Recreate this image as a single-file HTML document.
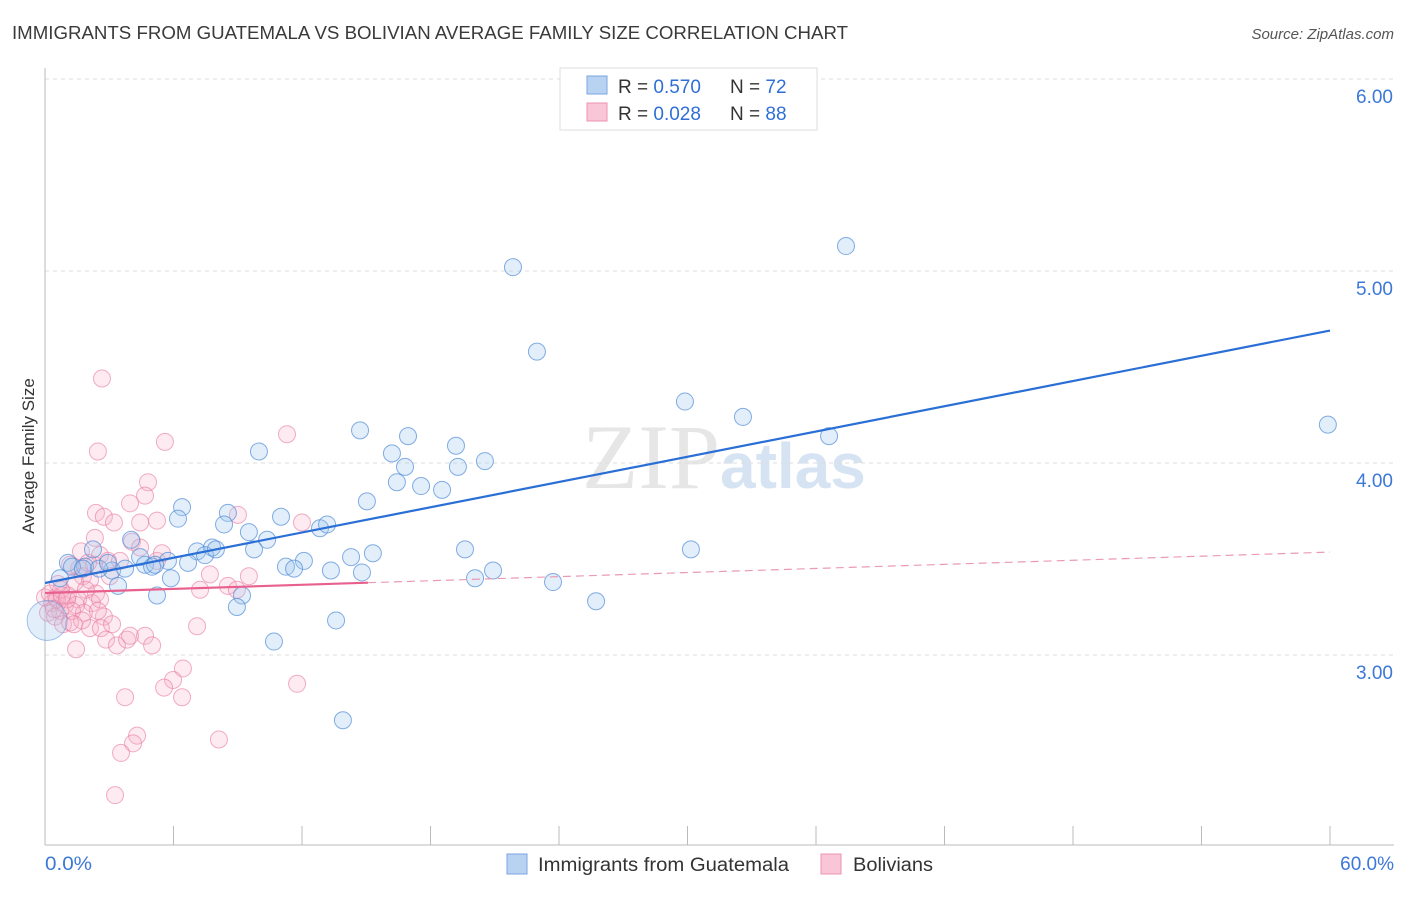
<!DOCTYPE html>
<html><head><meta charset="utf-8"><style>
body{margin:0;background:#fff;font-family:"Liberation Sans",sans-serif}
</style></head><body>
<svg id="chart" width="1406" height="892" xmlns="http://www.w3.org/2000/svg">
<text x="12" y="39" font-size="18" fill="#3a3a3a" textLength="836" lengthAdjust="spacingAndGlyphs">IMMIGRANTS FROM GUATEMALA VS BOLIVIAN AVERAGE FAMILY SIZE CORRELATION CHART</text>
<text x="1394" y="39" font-size="15" fill="#555" font-style="italic" text-anchor="end">Source: ZipAtlas.com</text>
<text x="720" y="488" font-size="92" fill="#e6e6e6" text-anchor="end" font-family="Liberation Serif,serif">ZIP</text>
<text x="720" y="488" font-size="64" fill="#d5e3f3" font-weight="bold">atlas</text>
<g id="grid"></g><g id="axes"></g><g id="pts"></g><g id="lines"></g>
<text x="34" y="456" font-size="17" fill="#333" text-anchor="middle" transform="rotate(-90 34 456)">Average Family Size</text>
<g>
<rect x="560" y="68" width="257" height="62" fill="#fff" stroke="#ddd"/>
<rect x="587" y="76" width="20" height="18" fill="#b8d2f2" stroke="#7aa6e0"/>
<rect x="587" y="103" width="20" height="18" fill="#f8c6d6" stroke="#ee93b1"/>
<text x="618" y="93" font-size="19" fill="#333">R = <tspan fill="#2f6fd6">0.570</tspan></text>
<text x="730" y="93" font-size="19" fill="#333">N = <tspan fill="#2f6fd6">72</tspan></text>
<text x="618" y="120" font-size="19" fill="#333">R = <tspan fill="#2f6fd6">0.028</tspan></text>
<text x="730" y="120" font-size="19" fill="#333">N = <tspan fill="#2f6fd6">88</tspan></text>
</g>
<g>
<rect x="507" y="854" width="20" height="20" fill="#b8d2f2" stroke="#7aa6e0"/>
<text x="538" y="871" font-size="19" fill="#333" textLength="251" lengthAdjust="spacingAndGlyphs">Immigrants from Guatemala</text>
<rect x="821" y="854" width="20" height="20" fill="#f8c6d6" stroke="#ee93b1"/>
<text x="853" y="871" font-size="19" fill="#333" textLength="80" lengthAdjust="spacingAndGlyphs">Bolivians</text>
</g>
<text x="45" y="870" font-size="19" fill="#3b78d8" textLength="47" lengthAdjust="spacingAndGlyphs">0.0%</text>
<text x="1394" y="870" font-size="19" fill="#3b78d8" text-anchor="end">60.0%</text>
</svg>
<script>
const yTicks=[3,4,5,6];
const yTickLabels=["3.00","4.00","5.00","6.00"];
const blueX=[21.85,37.40,22.97,29.88,32.59,36.61,59.90,14.71,16.95,19.19,16.20,9.99,16.81,19.28,20.54,16.43,17.56,18.54,15.03,6.40,8.54,6.21,8.36,11.02,9.52,12.84,13.17,10.37,9.76,7.10,7.80,7.47,7.98,5.74,6.68,4.44,4.67,5.00,4.02,2.24,1.07,1.87,3.13,3.74,5.14,3.41,5.88,19.61,30.16,14.29,15.31,12.09,11.25,11.63,13.35,14.80,20.92,20.08,23.72,25.73,5.23,9.20,8.96,13.59,10.69,13.91,0.70,2.52,1.26,2.94,1.77];
const blueY=[5.02,5.13,4.58,4.32,4.24,4.14,4.20,4.17,4.14,4.09,4.05,4.06,3.98,3.98,4.01,3.90,3.88,3.86,3.80,3.77,3.74,3.71,3.68,3.72,3.64,3.66,3.68,3.60,3.55,3.54,3.56,3.52,3.55,3.49,3.48,3.51,3.47,3.46,3.60,3.55,3.48,3.46,3.44,3.45,3.47,3.36,3.40,3.55,3.55,3.51,3.53,3.49,3.46,3.45,3.44,3.43,3.44,3.40,3.38,3.28,3.31,3.31,3.25,3.18,3.07,2.66,3.40,3.45,3.46,3.48,3.45];
const bigPoint=[0.1,3.18];
const pinkX=[2.66,5.60,2.47,11.30,4.81,3.97,4.67,2.38,2.75,3.22,4.44,5.23,9.01,12.00,2.33,4.06,1.68,2.57,2.94,4.44,5.23,5.46,8.54,7.24,9.52,1.59,1.17,1.77,2.10,3.03,1.40,2.38,0.51,0.33,0.70,0.93,0.14,0.47,0.84,1.17,1.91,2.19,2.57,2.75,1.07,0.75,1.54,1.45,1.82,2.10,2.61,3.13,2.85,3.36,3.83,3.97,4.67,5.00,7.10,8.96,7.70,1.45,6.44,5.98,5.56,6.40,11.77,3.74,4.30,4.11,3.55,8.12,3.27,0.00,0.23,0.56,0.79,1.03,1.26,0.61,1.73,2.29,3.50,1.35,0.42,2.47,2.01];
const pinkY=[4.44,4.11,4.06,4.15,3.90,3.79,3.83,3.74,3.72,3.69,3.69,3.70,3.73,3.69,3.61,3.59,3.54,3.52,3.49,3.56,3.49,3.53,3.36,3.34,3.41,3.45,3.47,3.41,3.39,3.41,3.38,3.32,3.30,3.27,3.23,3.26,3.22,3.20,3.16,3.17,3.34,3.27,3.29,3.20,3.31,3.34,3.29,3.26,3.22,3.14,3.14,3.16,3.08,3.05,3.08,3.10,3.10,3.05,3.15,3.34,3.42,3.03,2.93,2.87,2.83,2.78,2.85,2.78,2.58,2.54,2.49,2.56,2.27,3.30,3.32,3.29,3.31,3.29,3.23,3.37,3.18,3.47,3.49,3.16,3.24,3.23,3.48];
const blueTrend=[0,3.375,60,4.69];
const pinkTrend=[0,3.323,60,3.536];
const pinkSolidEnd=15.08;

const NS="http://www.w3.org/2000/svg";
const sx=v=>45+v/60*1285;
const sy=v=>655-(v-3)*192;
function mk(tag,attrs,parent){const e=document.createElementNS(NS,tag);for(const k in attrs)e.setAttribute(k,attrs[k]);document.getElementById(parent).appendChild(e);return e;}
yTicks.forEach((t,i)=>{
  const l=mk('line',{x1:45,x2:1394,y1:sy(t),y2:sy(t),stroke:'#ddd','stroke-dasharray':'4,4'},'grid');
  
  
  const tx=mk('text',{x:1393,y:sy(t)+24,'font-size':19,fill:'#3b78d8','text-anchor':'end'},'grid');
  tx.textContent=yTickLabels[i];
  
  
});
let ax=mk('line',{x1:45,x2:45,y1:68,y2:845,stroke:'#bbb'},'axes');


ax=mk('line',{x1:45,x2:1394,y1:845,y2:845,stroke:'#bbb'},'axes');


for(let i=0;i<=10;i++){
  const t=mk('line',{x1:sx(i*6),x2:sx(i*6),y1:826,y2:845,stroke:'#bbb'},'axes');
  
  
}
pinkX.forEach((x,i)=>{
  const c=mk('circle',{cx:sx(x),cy:sy(pinkY[i]),r:8.5,fill:'rgba(246,175,200,0.25)',stroke:'rgba(232,120,160,0.6)','stroke-width':1},'pts');
  
  
});
blueX.forEach((x,i)=>{
  const c=mk('circle',{cx:sx(x),cy:sy(blueY[i]),r:8.5,fill:'rgba(160,198,238,0.3)',stroke:'rgba(80,140,215,0.7)','stroke-width':1},'pts');
  
  
});
const bp=mk('circle',{cx:sx(bigPoint[0]),cy:sy(bigPoint[1]),r:20,fill:'rgba(160,198,238,0.3)',stroke:'rgba(80,140,215,0.5)'},'pts');


let ln=mk('line',{x1:sx(blueTrend[0]),y1:sy(blueTrend[1]),x2:sx(blueTrend[2]),y2:sy(blueTrend[3]),stroke:'#2a6fd6','stroke-width':2.2},'lines');


const py=x=>pinkTrend[1]+(pinkTrend[3]-pinkTrend[1])*(x-pinkTrend[0])/(pinkTrend[2]-pinkTrend[0]);
ln=mk('line',{x1:sx(0),y1:sy(py(0)),x2:sx(pinkSolidEnd),y2:sy(py(pinkSolidEnd)),stroke:'#e8608e','stroke-width':2.2},'lines');


ln=mk('line',{x1:sx(pinkSolidEnd),y1:sy(py(pinkSolidEnd)),x2:sx(60),y2:sy(py(60)),stroke:'#eb9ab5','stroke-width':1.2,'stroke-dasharray':'8,5'},'lines');


</script>
</body></html>
